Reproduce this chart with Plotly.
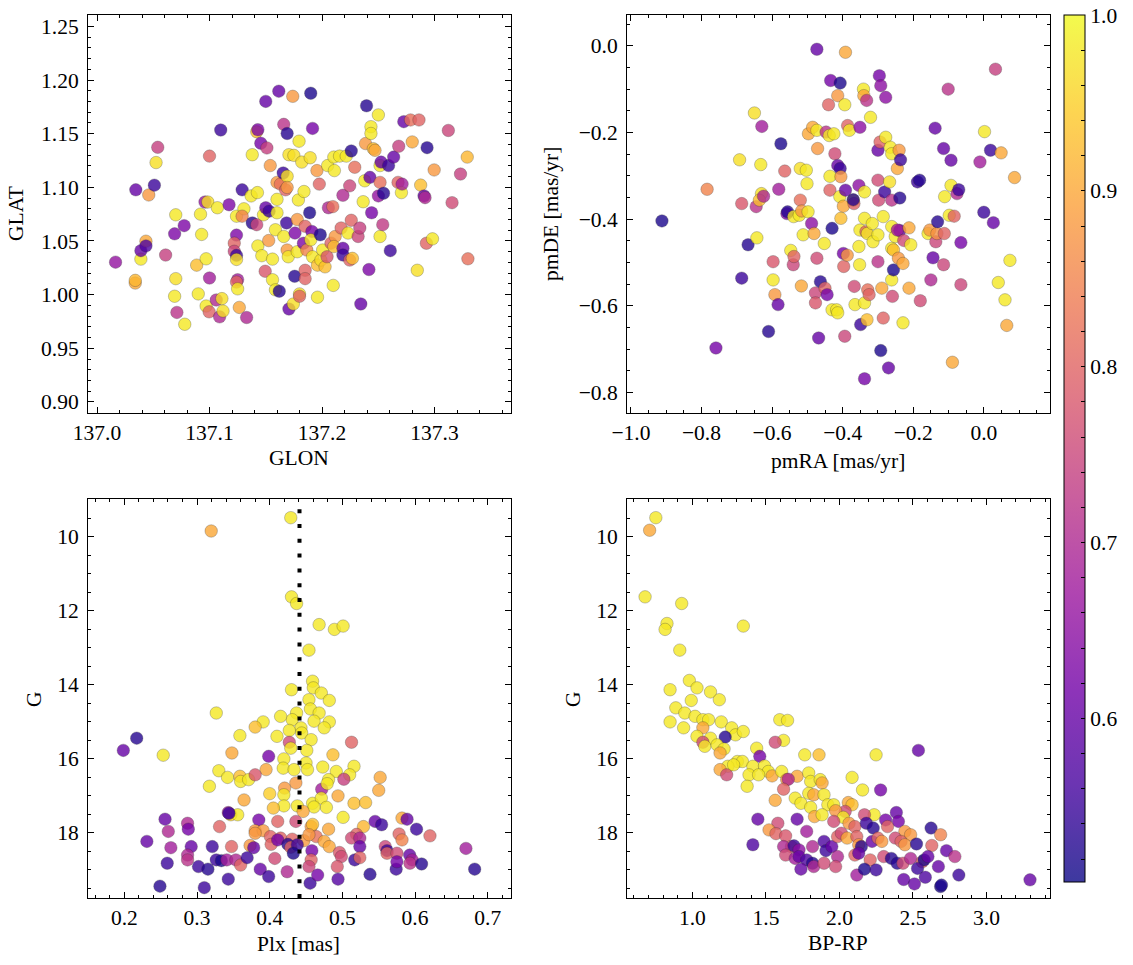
import numpy as np
import plotly.graph_objects as go
import plotly.colors as pc

# ---------------- data ----------------
glon = [
    137.0165, 137.034, 137.034, 137.0345, 137.039, 137.039, 137.0435, 137.0435, 137.046, 137.051,
    137.054, 137.0525, 137.061, 137.070, 137.069, 137.0775, 137.070, 137.069, 137.071, 137.078,
    137.0886, 137.092, 137.093, 137.090, 137.096, 137.0985, 137.097, 137.097, 137.100, 137.100,
    137.0997, 137.107, 137.106, 137.110, 137.109, 137.111, 137.112, 137.1174, 137.124, 137.124,
    137.122, 137.122, 137.124, 137.124, 137.125, 137.124, 137.125, 137.1265, 137.129, 137.1306,
    137.129, 137.133, 137.138, 137.137, 137.1426, 137.138, 137.142, 137.143, 137.1465, 137.142,
    137.143, 137.1456, 137.148, 137.1495, 137.150, 137.151, 137.150, 137.153, 137.154, 137.1526,
    137.156, 137.156, 137.1586, 137.160, 137.160, 137.160, 137.1616, 137.162, 137.1586, 137.163,
    137.1655, 137.169, 137.166, 137.169, 137.1676, 137.169, 137.166, 137.1685, 137.169, 137.170,
    137.1706, 137.1706, 137.174, 137.175, 137.176, 137.1757, 137.1745, 137.178, 137.179, 137.1796,
    137.178, 137.18, 137.18, 137.182, 137.184, 137.1835, 137.185, 137.185, 137.185, 137.1865,
    137.189, 137.19, 137.1916, 137.1895, 137.191, 137.19, 137.1916, 137.1955, 137.196, 137.196,
    137.1976, 137.1985, 137.199, 137.2006, 137.2027, 137.2045, 137.205, 137.2057, 137.2096, 137.208,
    137.2105, 137.211, 137.2117, 137.210, 137.2105, 137.2156, 137.2186, 137.217, 137.2186, 137.2186,
    137.2231, 137.2216, 137.2246, 137.2246, 137.226, 137.226, 137.227, 137.2291, 137.2321, 137.2336,
    137.2345, 137.2366, 137.238, 137.2387, 137.2396, 137.2417, 137.2426, 137.2441, 137.2435, 137.2435,
    137.2456, 137.2471, 137.2501, 137.2501, 137.2516, 137.2516, 137.2516, 137.2525, 137.254, 137.2547,
    137.2592, 137.2607, 137.2637, 137.2682, 137.2676, 137.2706, 137.2712, 137.2727, 137.2787, 137.2802,
    137.2862, 137.2847, 137.2877, 137.2907, 137.2916, 137.2928, 137.2934, 137.2982, 137.2997, 137.3123,
    137.3156, 137.3231, 137.3291, 137.3297]
glat = [
    1.0303, 1.0108, 1.0133, 1.0977, 1.0331, 1.041, 1.0498, 1.0454, 1.0929, 1.102,
    1.1373, 1.1231, 1.0369, 1.0744, 1.0567, 1.0643, 1.0149, 0.9985, 0.9834, 0.9724,
    1.0275, 1.075, 1.0561, 1.0007, 1.0863, 1.0863, 1.0334, 0.9894, 1.1291, 1.0155,
    0.984, 1.081, 0.995, 1.1534, 0.9793, 0.9963, 0.9847, 1.0838, 1.0731, 1.0555,
    1.048, 1.0404, 1.0366, 1.0328, 1.0139, 1.0117, 1.0054, 0.9881, 1.0977, 1.080,
    1.0731, 0.9787, 1.1304, 1.092, 1.0951, 1.0668, 1.0652, 1.0454, 1.0363, 1.1518,
    1.1537, 1.1411, 1.0744, 1.0218, 1.1801, 1.1367, 1.081, 1.0778, 1.1203, 1.0504,
    1.0331, 1.0139, 1.0045, 1.0888, 1.1046, 1.0763, 1.1896, 1.0032, 1.0605, 1.103,
    1.1134, 1.1103, 1.1587, 1.1502, 1.0977, 1.0999, 1.0542, 1.0668, 1.0416, 1.0353,
    1.1304, 0.9866, 1.1848, 1.1298, 1.0574, 1.0171, 0.9913, 1.07, 1.0882, 1.143,
    1.04, 1.0007, 0.9985, 1.1235, 1.0961, 1.0479, 1.0637, 1.0227, 1.0149, 1.0416,
    1.0763, 1.1877, 1.1549, 1.1276, 1.0589, 1.0511, 1.0353, 1.1156, 0.9976, 1.0275,
    1.103, 1.0558, 1.0322, 1.0416, 1.0259, 1.0353, 1.1203, 1.081, 1.082, 1.048,
    1.1282, 1.1156, 1.0542, 1.0086, 1.0448, 1.1291, 1.0926, 1.0621, 1.0432, 1.0369,
    1.0574, 1.1291, 1.1014, 1.0322, 1.1339, 1.0693, 1.0338, 1.1187, 1.0542, 1.0621,
    0.9913, 1.0866, 1.1061, 1.1408, 1.176, 1.0234, 1.1093, 1.0763, 1.1565, 1.1502,
    1.136, 1.1345, 1.1675, 1.092, 1.1046, 1.0542, 1.1203, 1.1235, 1.0652, 1.0945,
    1.1203, 1.041, 1.1282, 1.1383, 1.1046, 1.0951, 1.103, 1.1612, 1.1628, 1.1423,
    1.1628, 1.0227, 1.1021, 1.092, 1.0904, 1.0479, 1.137, 1.052, 1.1162, 1.153,
    1.0857, 1.1124, 1.1282, 1.0334]
prob_sky = [
    0.66, 0.90, 0.92, 0.60, 0.98, 0.60, 0.90, 0.57, 0.88, 0.55,
    0.74, 0.97, 0.74, 0.98, 0.63, 0.63, 0.97, 0.98, 0.72, 0.98,
    0.93, 0.98, 0.98, 0.98, 0.66, 0.97, 0.98, 0.98, 0.80, 0.68,
    0.80, 0.98, 0.70, 0.55, 0.70, 0.97, 0.97, 0.63, 0.98, 0.63,
    0.80, 0.75, 0.55, 0.97, 0.68, 0.80, 0.98, 0.90, 0.55, 0.98,
    0.85, 0.70, 0.98, 0.98, 0.98, 0.53, 0.75, 0.98, 0.98, 0.93,
    0.63, 0.62, 0.98, 0.78, 0.60, 0.74, 0.60, 0.55, 0.88, 0.88,
    0.98, 0.98, 0.98, 0.98, 0.88, 0.98, 0.60, 0.53, 0.98, 0.82,
    0.55, 0.97, 0.72, 0.53, 0.80, 0.88, 0.98, 0.55, 0.88, 0.98,
    0.97, 0.60, 0.88, 0.97, 0.63, 0.53, 0.97, 0.88, 0.98, 0.98,
    0.98, 0.97, 0.80, 0.97, 0.98, 0.63, 0.80, 0.80, 0.80, 0.85,
    0.52, 0.52, 0.62, 0.97, 0.62, 0.98, 0.98, 0.88, 0.98, 0.93,
    0.80, 0.52, 0.97, 0.98, 0.93, 0.78, 0.98, 0.70, 0.82, 0.80,
    0.98, 0.98, 0.88, 0.98, 0.93, 0.98, 0.70, 0.80, 0.60, 0.55,
    0.98, 0.98, 0.75, 0.80, 0.53, 0.80, 0.93, 0.82, 0.75, 0.74,
    0.60, 0.98, 0.98, 0.88, 0.53, 0.63, 0.60, 0.62, 0.98, 0.98,
    0.93, 0.90, 0.98, 0.66, 0.82, 0.98, 0.98, 0.60, 0.73, 0.53,
    0.55, 0.55, 0.60, 0.74, 0.80, 0.98, 0.68, 0.60, 0.82, 0.90,
    0.80, 0.97, 0.93, 0.60, 0.70, 0.80, 0.53, 0.98, 0.88, 0.75,
    0.76, 0.74, 0.92, 0.82]

pmra = [
    -0.912, -0.784, -0.759, -0.692, -0.686, -0.668, -0.686, -0.650, -0.645, -0.643,
    -0.632, -0.630, -0.636, -0.624, -0.629, -0.610, -0.597, -0.597, -0.592, -0.583,
    -0.581, -0.575, -0.564, -0.558, -0.556, -0.547, -0.540, -0.538, -0.539, -0.523,
    -0.520, -0.520, -0.516, -0.517, -0.512, -0.503, -0.501, -0.498, -0.497, -0.488,
    -0.485, -0.481, -0.477, -0.477, -0.473, -0.473, -0.471, -0.468, -0.463, -0.473,
    -0.452, -0.450, -0.444, -0.447, -0.440, -0.434, -0.438, -0.425, -0.436, -0.436,
    -0.430, -0.430, -0.422, -0.417, -0.414, -0.414, -0.407, -0.414, -0.407, -0.408,
    -0.405, -0.394, -0.392, -0.398, -0.394, -0.397, -0.398, -0.405, -0.392, -0.386,
    -0.381, -0.387, -0.370, -0.368, -0.367, -0.365, -0.370, -0.354, -0.351, -0.354,
    -0.352, -0.351, -0.349, -0.341, -0.340, -0.338, -0.338, -0.338, -0.338, -0.334,
    -0.332, -0.330, -0.331, -0.329, -0.325, -0.321, -0.316, -0.314, -0.300, -0.300,
    -0.300, -0.298, -0.300, -0.294, -0.296, -0.292, -0.292, -0.289, -0.285, -0.285,
    -0.281, -0.278, -0.278, -0.270, -0.267, -0.265, -0.261, -0.261, -0.261, -0.259,
    -0.261, -0.256, -0.256, -0.261, -0.251, -0.245, -0.242, -0.240, -0.238, -0.236,
    -0.238, -0.245, -0.229, -0.227, -0.229, -0.212, -0.212, -0.207, -0.188, -0.182,
    -0.180, -0.158, -0.153, -0.150, -0.144, -0.138, -0.136, -0.133, -0.131, -0.114,
    -0.112, -0.114, -0.111, -0.101, -0.098, -0.093, -0.093, -0.089, -0.084, -0.076,
    -0.071, -0.065, -0.065, -0.011, 0.002, 0.000, 0.019, 0.027, 0.033, 0.041,
    0.049, 0.060, 0.065, 0.074, 0.087]
pmde = [
    -0.404, -0.331, -0.697, -0.263, -0.364, -0.459, -0.536, -0.155, -0.371, -0.443,
    -0.274, -0.341, -0.356, -0.347, -0.186, -0.659, -0.498, -0.540, -0.574, -0.597,
    -0.331, -0.226, -0.289, -0.387, -0.383, -0.472, -0.505, -0.486, -0.394, -0.391,
    -0.283, -0.356, -0.381, -0.554, -0.436, -0.287, -0.318, -0.383, -0.203, -0.410,
    -0.188, -0.433, -0.570, -0.593, -0.008, -0.195, -0.237, -0.674, -0.544, -0.490,
    -0.456, -0.559, -0.574, -0.199, -0.136, -0.080, -0.207, -0.203, -0.301, -0.333,
    -0.421, -0.609, -0.249, -0.609, -0.616, -0.115, -0.086, -0.276, -0.283, -0.348,
    -0.302, -0.136, -0.015, -0.479, -0.670, -0.509, -0.370, -0.398, -0.333, -0.184,
    -0.195, -0.483, -0.356, -0.364, -0.555, -0.597, -0.355, -0.322, -0.188, -0.463,
    -0.505, -0.425, -0.643, -0.100, -0.115, -0.768, -0.337, -0.398, -0.593, -0.429,
    -0.126, -0.433, -0.632, -0.563, -0.574, -0.165, -0.410, -0.452, -0.498, -0.436,
    -0.310, -0.356, -0.241, -0.222, -0.069, -0.092, -0.703, -0.559, -0.628, -0.394,
    -0.337, -0.119, -0.211, -0.743, -0.314, -0.234, -0.249, -0.467, -0.540, -0.578,
    -0.417, -0.471, -0.517, -0.356, -0.440, -0.283, -0.490, -0.241, -0.426, -0.263,
    -0.351, -0.425, -0.502, -0.449, -0.639, -0.420, -0.559, -0.459, -0.314, -0.310,
    -0.588, -0.433, -0.425, -0.540, -0.489, -0.190, -0.452, -0.433, -0.406, -0.237,
    -0.433, -0.505, -0.348, -0.100, -0.391, -0.264, -0.322, -0.730, -0.393, -0.341,
    -0.332, -0.454, -0.551, -0.268, -0.198, -0.384, -0.241, -0.408, -0.054, -0.546,
    -0.247, -0.586, -0.645, -0.495, -0.304]
prob_pm = [
    0.52, 0.85, 0.62, 0.97, 0.78, 0.53, 0.55, 0.97, 0.72, 0.98,
    0.98, 0.97, 0.93, 0.70, 0.68, 0.53, 0.78, 0.98, 0.88, 0.60,
    0.68, 0.52, 0.80, 0.63, 0.53, 0.98, 0.75, 0.80, 0.98, 0.98,
    0.97, 0.82, 0.88, 0.90, 0.98, 0.98, 0.98, 0.98, 0.90, 0.65,
    0.90, 0.90, 0.75, 0.78, 0.60, 0.98, 0.88, 0.60, 0.53, 0.76,
    0.98, 0.80, 0.62, 0.72, 0.80, 0.62, 0.98, 0.98, 0.98, 0.80,
    0.52, 0.98, 0.76, 0.98, 0.98, 0.88, 0.52, 0.60, 0.55, 0.98,
    0.88, 0.98, 0.90, 0.62, 0.75, 0.80, 0.90, 0.93, 0.60, 0.80,
    0.98, 0.88, 0.98, 0.80, 0.76, 0.98, 0.53, 0.65, 0.65, 0.98,
    0.98, 0.98, 0.55, 0.98, 0.90, 0.62, 0.98, 0.98, 0.98, 0.80,
    0.72, 0.98, 0.93, 0.82, 0.80, 0.98, 0.98, 0.98, 0.72, 0.98,
    0.76, 0.76, 0.60, 0.80, 0.62, 0.65, 0.52, 0.90, 0.80, 0.98,
    0.55, 0.65, 0.98, 0.60, 0.97, 0.98, 0.98, 0.98, 0.98, 0.76,
    0.98, 0.93, 0.52, 0.72, 0.98, 0.90, 0.88, 0.88, 0.60, 0.55,
    0.53, 0.68, 0.90, 0.76, 0.98, 0.90, 0.90, 0.98, 0.55, 0.53,
    0.76, 0.98, 0.88, 0.70, 0.60, 0.60, 0.75, 0.87, 0.53, 0.60,
    0.80, 0.75, 0.98, 0.72, 0.98, 0.60, 0.98, 0.90, 0.80, 0.70,
    0.55, 0.62, 0.75, 0.68, 0.98, 0.55, 0.55, 0.60, 0.74, 0.98,
    0.90, 0.98, 0.90, 0.98, 0.90]

plx = [
    0.429, 0.3195, 0.430, 0.437, 0.468, 0.489, 0.501, 0.454, 0.459, 0.460,
    0.430, 0.471, 0.482, 0.454, 0.456, 0.3265, 0.437, 0.468, 0.461, 0.431,
    0.415, 0.391, 0.482, 0.475, 0.443, 0.380, 0.427, 0.444, 0.359, 0.410,
    0.457, 0.427, 0.429, 0.5126, 0.217, 0.1986, 0.2535, 0.348, 0.3986, 0.451,
    0.487, 0.4195, 0.450, 0.516, 0.4186, 0.4335, 0.473, 0.452, 0.330, 0.342,
    0.395, 0.359, 0.360, 0.371, 0.380, 0.4916, 0.510, 0.502, 0.481, 0.552,
    0.317, 0.436, 0.4716, 0.4205, 0.550, 0.479, 0.4195, 0.400, 0.494, 0.3647,
    0.459, 0.471, 0.516, 0.532, 0.478, 0.461, 0.4195, 0.438, 0.405, 0.446,
    0.3465, 0.356, 0.343, 0.344, 0.501, 0.256, 0.385, 0.411, 0.436, 0.529,
    0.545, 0.554, 0.582, 0.589, 0.331, 0.287, 0.288, 0.2605, 0.380, 0.391,
    0.457, 0.459, 0.481, 0.602, 0.6205, 0.380, 0.401, 0.415, 0.431, 0.447,
    0.464, 0.454, 0.475, 0.5195, 0.5126, 0.524, 0.578, 0.582, 0.231, 0.264,
    0.292, 0.321, 0.3475, 0.373, 0.378, 0.402, 0.411, 0.425, 0.429, 0.438,
    0.4325, 0.458, 0.457, 0.482, 0.496, 0.4986, 0.524, 0.517, 0.524, 0.559,
    0.5614, 0.5614, 0.575, 0.5926, 0.596, 0.670, 0.287, 0.287, 0.259, 0.302,
    0.315, 0.3265, 0.3335, 0.341, 0.3535, 0.360, 0.369, 0.387, 0.407, 0.3986,
    0.424, 0.454, 0.4556, 0.466, 0.493, 0.494, 0.538, 0.574, 0.575, 0.593,
    0.609, 0.682, 0.249, 0.310, 0.343]
gmag_plx = [
    9.48, 9.84, 11.62, 11.80, 12.37, 12.50, 12.41, 13.06, 13.90, 14.08,
    14.13, 14.22, 14.42, 14.40, 14.65, 14.76, 14.76, 14.76, 14.98, 14.94,
    14.85, 15.00, 15.00, 15.16, 15.16, 15.14, 15.23, 15.30, 15.37, 15.39,
    15.48, 15.55, 15.71, 15.55, 15.44, 15.77, 15.90, 15.84, 15.93, 15.77,
    15.89, 16.00, 16.11, 16.20, 16.25, 16.29, 16.22, 16.29, 16.32, 16.50,
    16.29, 16.47, 16.61, 16.56, 16.43, 16.34, 16.43, 16.55, 16.56, 16.50,
    16.74, 16.65, 16.82, 16.79, 16.85, 16.67, 16.97, 16.94, 17.00, 17.11,
    17.20, 17.06, 17.20, 17.18, 17.31, 17.30, 17.27, 17.27, 17.33, 17.42,
    17.51, 17.51, 17.45, 17.47, 17.58, 17.63, 17.65, 17.69, 17.69, 17.83,
    17.69, 17.78, 17.60, 17.63, 17.83, 17.74, 17.90, 17.96, 17.94, 17.94,
    17.83, 17.77, 17.90, 17.90, 18.08, 18.01, 18.10, 18.14, 18.17, 18.21,
    18.10, 18.05, 18.23, 18.04, 18.14, 18.14, 18.03, 18.19, 18.23, 18.40,
    18.37, 18.37, 18.37, 18.34, 18.40, 18.31, 18.19, 18.31, 18.39, 18.32,
    18.55, 18.48, 18.73, 18.37, 18.53, 18.64, 18.37, 18.73, 18.67, 18.37,
    18.48, 18.55, 18.55, 18.60, 18.73, 18.42, 18.60, 18.73, 18.82, 18.91,
    18.98, 18.73, 18.75, 18.73, 18.73, 18.87, 18.67, 18.98, 18.69, 19.18,
    19.05, 18.91, 19.36, 19.14, 18.91, 19.25, 19.12, 18.98, 18.78, 18.82,
    18.84, 18.98, 19.44, 19.48, 19.25]
prob_plx = [
    0.98, 0.90, 0.98, 0.98, 0.98, 0.98, 0.98, 0.98, 0.98, 0.98,
    0.98, 0.98, 0.98, 0.98, 0.98, 0.98, 0.98, 0.98, 0.98, 0.98,
    0.98, 0.98, 0.98, 0.98, 0.98, 0.93, 0.98, 0.98, 0.98, 0.98,
    0.98, 0.76, 0.98, 0.80, 0.53, 0.60, 0.98, 0.90, 0.62, 0.98,
    0.93, 0.98, 0.98, 0.98, 0.98, 0.98, 0.98, 0.98, 0.98, 0.98,
    0.90, 0.93, 0.98, 0.98, 0.78, 0.98, 0.98, 0.74, 0.98, 0.90,
    0.98, 0.88, 0.68, 0.88, 0.90, 0.98, 0.98, 0.95, 0.90, 0.90,
    0.98, 0.98, 0.93, 0.93, 0.98, 0.98, 0.98, 0.98, 0.93, 0.90,
    0.95, 0.98, 0.68, 0.55, 0.98, 0.60, 0.62, 0.80, 0.76, 0.92,
    0.60, 0.55, 0.90, 0.60, 0.80, 0.70, 0.62, 0.70, 0.88, 0.88,
    0.88, 0.93, 0.90, 0.55, 0.80, 0.88, 0.80, 0.80, 0.80, 0.88,
    0.82, 0.88, 0.90, 0.80, 0.76, 0.70, 0.80, 0.85, 0.60, 0.68,
    0.60, 0.55, 0.80, 0.88, 0.60, 0.80, 0.62, 0.53, 0.80, 0.55,
    0.52, 0.62, 0.80, 0.90, 0.78, 0.76, 0.60, 0.55, 0.80, 0.75,
    0.55, 0.80, 0.76, 0.60, 0.68, 0.68, 0.70, 0.72, 0.55, 0.55,
    0.53, 0.55, 0.52, 0.68, 0.70, 0.80, 0.55, 0.60, 0.76, 0.55,
    0.70, 0.75, 0.55, 0.62, 0.78, 0.58, 0.53, 0.55, 0.62, 0.72,
    0.53, 0.53, 0.53, 0.55, 0.55]
plx_ref = 0.441

bprp = [
    0.751, 0.709, 0.678, 0.927, 0.827, 0.814, 1.346, 0.914, 0.979, 1.031,
    0.848, 1.123, 1.183, 0.992, 0.887, 0.948, 0.848, 1.018, 1.071, 1.110,
    1.196, 0.940, 1.071, 1.267, 1.293, 1.346, 1.031, 1.123, 1.223, 1.071,
    1.084, 1.168, 1.215, 1.188, 1.594, 1.647, 1.620, 1.563, 1.437, 1.458,
    1.764, 1.861, 2.249, 2.537, 1.306, 1.340, 1.241, 1.188, 1.233, 1.280,
    1.411, 1.490, 1.385, 1.516, 1.450, 1.372, 1.542, 1.607, 1.641, 1.712,
    1.652, 1.791, 1.804, 1.869, 1.882, 2.086, 1.620, 1.699, 1.791, 1.825,
    1.895, 2.157, 2.280, 1.563, 1.738, 1.804, 1.921, 1.961, 2.060, 2.086,
    2.039, 1.974, 1.830, 1.882, 2.026, 2.236, 2.314, 2.170, 2.387, 2.401,
    1.445, 1.712, 1.581, 1.521, 1.777, 1.961, 2.065, 2.105, 2.183, 2.230,
    2.327, 2.445, 2.484, 2.623, 2.688, 1.411, 1.568, 1.634, 1.673, 1.620,
    1.691, 1.725, 1.817, 1.895, 1.908, 1.948, 1.987, 2.013, 2.052, 2.118,
    2.131, 2.149, 2.222, 2.262, 2.288, 2.380, 2.419, 2.445, 2.524, 2.628,
    2.728, 2.785, 1.634, 1.699, 1.725, 1.777, 1.817, 1.825, 1.895, 1.987,
    2.105, 2.131, 2.209, 2.301, 2.353, 2.393, 2.432, 2.484, 2.563, 2.576,
    2.602, 1.974, 1.738, 2.118, 2.170, 2.249, 2.531, 2.673, 2.812, 2.437,
    2.510, 2.584, 2.688, 2.694, 3.296]
gmag_cmd = [
    9.48, 9.82, 11.62, 11.80, 12.34, 12.50, 12.41, 13.06, 13.88, 14.08,
    14.13, 14.19, 14.40, 14.42, 14.62, 14.76, 15.00, 14.85, 14.94, 14.94,
    15.00, 15.16, 15.16, 15.16, 15.35, 15.26, 15.39, 15.44, 15.41, 15.55,
    15.66, 15.62, 15.73, 15.84, 14.94, 14.96, 15.50, 15.55, 15.71, 15.93,
    15.89, 15.89, 15.89, 15.77, 16.07, 16.07, 16.20, 16.29, 16.43, 16.16,
    16.20, 16.19, 16.43, 16.34, 16.43, 16.74, 16.46, 16.34, 16.56, 16.47,
    16.55, 16.38, 16.61, 16.56, 16.65, 16.50, 16.82, 17.06, 16.93, 16.97,
    16.97, 16.84, 16.84, 17.12, 17.20, 17.31, 17.24, 17.24, 17.18, 17.24,
    17.42, 17.40, 17.56, 17.51, 17.58, 17.51, 17.65, 17.51, 17.45, 17.69,
    17.63, 17.63, 17.74, 17.92, 17.96, 17.69, 17.74, 17.83, 17.74, 17.87,
    17.83, 17.96, 18.05, 17.87, 18.05, 18.32, 18.02, 18.08, 18.37, 18.37,
    18.35, 18.46, 18.37, 18.23, 18.48, 18.37, 18.10, 18.01, 18.14, 18.10,
    18.32, 18.37, 18.23, 18.14, 18.23, 18.14, 18.23, 18.32, 18.30, 18.34,
    18.48, 18.64, 18.60, 18.69, 18.64, 18.73, 18.82, 18.91, 18.82, 18.64,
    18.60, 18.55, 18.73, 18.64, 18.69, 18.82, 18.82, 18.69, 18.78, 18.73,
    18.64, 18.91, 18.98, 19.14, 18.98, 19.00, 18.96, 18.91, 19.14, 19.26,
    19.38, 19.20, 19.45, 19.41, 19.27]
prob_cmd = [
    0.98, 0.90, 0.98, 0.98, 0.98, 0.98, 0.98, 0.98, 0.98, 0.98,
    0.98, 0.98, 0.98, 0.98, 0.98, 0.98, 0.98, 0.98, 0.98, 0.98,
    0.98, 0.98, 0.90, 0.98, 0.98, 0.98, 0.98, 0.98, 0.53, 0.76,
    0.98, 0.98, 0.98, 0.90, 0.98, 0.98, 0.98, 0.76, 0.98, 0.62,
    0.98, 0.93, 0.98, 0.60, 0.98, 0.98, 0.98, 0.90, 0.76, 0.98,
    0.98, 0.98, 0.98, 0.98, 0.98, 0.98, 0.90, 0.98, 0.88, 0.90,
    0.70, 0.98, 0.98, 0.98, 0.90, 0.98, 0.80, 0.98, 0.98, 0.90,
    0.98, 0.98, 0.62, 0.90, 0.98, 0.98, 0.98, 0.98, 0.90, 0.93,
    0.76, 0.88, 0.90, 0.98, 0.98, 0.98, 0.62, 0.76, 0.60, 0.62,
    0.60, 0.60, 0.76, 0.88, 0.68, 0.76, 0.88, 0.80, 0.55, 0.53,
    0.80, 0.88, 0.88, 0.53, 0.85, 0.57, 0.80, 0.78, 0.80, 0.70,
    0.55, 0.65, 0.70, 0.57, 0.55, 0.60, 0.80, 0.76, 0.90, 0.80,
    0.88, 0.53, 0.60, 0.80, 0.88, 0.76, 0.80, 0.88, 0.53, 0.80,
    0.60, 0.72, 0.76, 0.68, 0.60, 0.57, 0.53, 0.70, 0.76, 0.70,
    0.80, 0.60, 0.80, 0.76, 0.53, 0.53, 0.76, 0.70, 0.80, 0.52,
    0.60, 0.76, 0.60, 0.68, 0.52, 0.55, 0.55, 0.60, 0.55, 0.60,
    0.60, 0.57, 0.52, 0.52, 0.60]

prob_min, prob_max = 0.507, 1.0
cbar_ticks = [0.6, 0.7, 0.8, 0.9, 1.0]

for a, b, c in [(glon, glat, prob_sky), (pmra, pmde, prob_pm),
                (plx, gmag_plx, prob_plx), (bprp, gmag_cmd, prob_cmd)]:
    assert len(a) == len(b) == len(c), (len(a), len(b), len(c))

# ---------------- styling ----------------
W, H = 1133, 965
FONT = "Liberation Serif"
FS = 21.5
ALPHA = 0.8

plasma = pc.sequential.Plasma
n = len(plasma)
cs_plasma = [[i / (n - 1), col] for i, col in enumerate(plasma)]


def blend(hexcol, a):
    r, g, b = pc.hex_to_rgb(hexcol)
    return "rgb(%d,%d,%d)" % tuple(round(a * v + (1 - a) * 255) for v in (r, g, b))


cs_faded = [[i / (n - 1), blend(col, ALPHA)] for i, col in enumerate(plasma)]


def fx(px):
    return px / W


def fy(py):
    return 1 - py / H


panels = {
    1: dict(x=(88, 511), y=(15, 413)),
    2: dict(x=(627, 1050), y=(15, 413)),
    3: dict(x=(88, 511), y=(499, 898)),
    4: dict(x=(627, 1050), y=(499, 898)),
}

fig = go.Figure()


def add_scatter(xs, ys, cs, k):
    fig.add_trace(go.Scatter(
        x=xs, y=ys, mode="markers",
        xaxis="x" if k == 1 else "x%d" % k,
        yaxis="y" if k == 1 else "y%d" % k,
        marker=dict(size=12.5, color=cs, cmin=prob_min, cmax=prob_max,
                    colorscale=cs_plasma, opacity=ALPHA,
                    line=dict(width=0.6, color="rgba(40,40,40,0.55)")),
        showlegend=False, hoverinfo="skip"))


add_scatter(glon, glat, prob_sky, 1)
add_scatter(pmra, pmde, prob_pm, 2)
add_scatter(plx, gmag_plx, prob_plx, 3)
add_scatter(bprp, gmag_cmd, prob_cmd, 4)

# colour bar (drawn faded as in the reference)
cb_tickvals = [round(v, 2) for v in np.arange(0.52, 1.0001, 0.02)]
cb_ticktext = [("%.1f" % v) if any(abs(v - t) < 1e-6 for t in cbar_ticks) else "" for v in cb_tickvals]
fig.add_trace(go.Scatter(
    x=[None], y=[None], mode="markers", showlegend=False, hoverinfo="skip",
    marker=dict(color=[prob_min], cmin=prob_min, cmax=prob_max, colorscale=cs_faded,
                showscale=True,
                colorbar=dict(x=fx(1064), xanchor="left", xpad=0,
                              y=fy(15), yanchor="top", ypad=0,
                              len=867, lenmode="pixels",
                              thickness=21, thicknessmode="pixels",
                              outlinewidth=1, outlinecolor="black",
                              tickmode="array", tickvals=cb_tickvals, ticktext=cb_ticktext,
                              ticks="inside", ticklen=4, tickwidth=1, tickcolor="black",
                              tickfont=dict(family=FONT, size=FS, color="black")))))

axis_common = dict(showline=True, linecolor="black", linewidth=1, mirror="allticks",
                   ticks="inside", ticklen=6, tickwidth=1, tickcolor="black",
                   showgrid=False, zeroline=False,
                   tickfont=dict(family=FONT, size=FS, color="black"))

specs = {
    1: dict(xr=[136.992, 137.368], xd=0.1, xm=0.02, xf=".1f", x0=137.0,
            yr=[0.8897, 1.2606], yd=0.05, ym=0.01, yf=".2f", y0=0.9),
    2: dict(xr=[-1.011, 0.1875], xd=0.2, xm=0.05, xf=".1f", x0=0.0,
            yr=[-0.847, 0.071], yd=0.2, ym=0.05, yf=".1f", y0=0.0),
    3: dict(xr=[0.150, 0.732], xd=0.1, xm=0.02, xf=".1f", x0=0.0,
            yr=[19.76, 8.975], yd=2, ym=0.5, yf="d", y0=0),
    4: dict(xr=[0.555, 3.432], xd=0.5, xm=0.1, xf=".1f", x0=0.0,
            yr=[19.76, 8.975], yd=2, ym=0.5, yf="d", y0=0),
}

layout = dict(width=W, height=H, plot_bgcolor="white", paper_bgcolor="white",
              margin=dict(l=0, r=0, t=0, b=0, autoexpand=False),
              font=dict(family=FONT, size=FS, color="black"))
for k, p in panels.items():
    s = specs[k]
    xa = "xaxis" if k == 1 else "xaxis%d" % k
    ya = "yaxis" if k == 1 else "yaxis%d" % k
    ax_id = "x" if k == 1 else "x%d" % k
    ay_id = "y" if k == 1 else "y%d" % k
    layout[xa] = dict(axis_common, domain=[fx(p["x"][0]), fx(p["x"][1])], anchor=ay_id,
                      range=s["xr"], tick0=s["x0"], dtick=s["xd"], tickformat=s["xf"],
                      minor=dict(ticks="inside", ticklen=3, tickwidth=1, tickcolor="black",
                                 dtick=s["xm"], showgrid=False))
    layout[ya] = dict(axis_common, domain=[fy(p["y"][1]), fy(p["y"][0])], anchor=ax_id,
                      range=s["yr"], tick0=s["y0"], dtick=s["yd"], tickformat=s["yf"],
                      ticklabelstandoff=4,
                      minor=dict(ticks="inside", ticklen=3, tickwidth=1, tickcolor="black",
                                 dtick=s["ym"], showgrid=False))
fig.update_layout(**layout)

# vertical dotted reference line in the parallax panel
fig.add_shape(type="line", xref="x3", yref="y3 domain", x0=plx_ref, x1=plx_ref, y0=0, y1=1,
              line=dict(color="black", width=4, dash="4px,10.8px"), layer="above")

# axis titles
titles = [
    ("GLAT", 16, 214, -90), ("GLON", 299, 458, 0),
    ("pmDE [mas/yr]", 551, 214, -90), ("pmRA [mas/yr]", 838, 461, 0),
    ("G", 34, 699, -90), ("Plx [mas]", 299, 944, 0),
    ("G", 573, 699, -90), ("BP-RP", 838, 943, 0),
]
for txt, px, py, ang in titles:
    fig.add_annotation(text=txt, x=fx(px), y=fy(py), xref="paper", yref="paper",
                       showarrow=False, textangle=ang, xanchor="center", yanchor="middle",
                       font=dict(family=FONT, size=FS, color="black"))

fig.write_html("out.html")
